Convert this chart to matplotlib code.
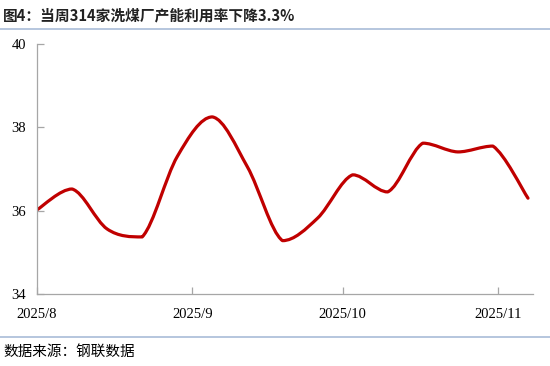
import numpy as np
import pandas as pd
import matplotlib
matplotlib.use("Agg")
import matplotlib.pyplot as plt
import matplotlib.dates as mdates
from matplotlib.path import Path
from matplotlib.patches import PathPatch
from matplotlib.lines import Line2D

plt.rcParams['font.family'] = ['Noto Sans CJK SC', 'DejaVu Sans']

# ---- data ----
dates = pd.date_range("2025-08-01", periods=15, freq="7D")
values = [36.02, 36.52, 35.56, 35.37, 37.30, 38.25, 37.05, 35.28, 35.82,
          36.86, 36.45, 37.62, 37.41, 37.55, 36.30]
xtick_dates = ["2025-08-01", "2025-09-01", "2025-10-01", "2025-11-01"]
xtick_labels = ["2025/8", "2025/9", "2025/10", "2025/11"]
yticks = [34, 36, 38, 40]
title = "图4：当周314家洗煤厂产能利用率下降3.3%"
source = "数据来源：钢联数据"

fig = plt.figure(figsize=(5.5, 3.66), dpi=100)
ax = fig.add_axes([37/550, 1-294/366, (533-37)/550, (294-44)/366])

x = mdates.date2num(dates.to_pydatetime())
y = np.array(values, dtype=float)

# smooth bezier through points; control points kept within each segment's y range,
# except at extrema where a little rounding is allowed
verts = [(x[0], y[0])]
codes = [Path.MOVETO]
n = len(x)
t = 1/6
for i in range(n-1):
    p0 = (x[max(i-1, 0)], y[max(i-1, 0)])
    p1 = (x[i], y[i])
    p2 = (x[i+1], y[i+1])
    p3 = (x[min(i+2, n-1)], y[min(i+2, n-1)])
    lo, hi = min(p1[1], p2[1]), max(p1[1], p2[1])
    c1y = np.clip(p1[1] + (p2[1]-p0[1])*t, lo, hi)
    c2y = np.clip(p2[1] - (p3[1]-p1[1])*t, lo, hi)
    c1 = (p1[0] + (p2[0]-p0[0])*t, c1y)
    c2 = (p2[0] - (p3[0]-p1[0])*t, c2y)
    verts += [c1, c2, p2]
    codes += [Path.CURVE4]*3
patch = PathPatch(Path(verts, codes), facecolor='none', edgecolor='#C00000',
                  lw=2.3, capstyle='round', joinstyle='round')
ax.add_patch(patch)

ax.set_xlim(mdates.date2num(pd.Timestamp("2025-08-01")),
            mdates.date2num(pd.Timestamp("2025-11-08")))
ax.set_ylim(34, 40)
ax.set_yticks(yticks)
ax.set_xticks(mdates.date2num(pd.to_datetime(xtick_dates).to_pydatetime()))
ax.set_xticklabels(xtick_labels)

for s in ['top', 'right']:
    ax.spines[s].set_visible(False)
for s in ['left', 'bottom']:
    ax.spines[s].set_color('#A6A6A6')
    ax.spines[s].set_linewidth(0.9)
ax.tick_params(axis='both', direction='in', length=5, width=0.9, color='#A6A6A6',
               labelsize=10.5, labelcolor='black')
ax.tick_params(axis='y', pad=8)
ax.tick_params(axis='x', pad=10)
for lab in ax.get_xticklabels() + ax.get_yticklabels():
    lab.set_fontfamily(['Liberation Serif'])

fig.text(3/550, 1-15/366, title, fontsize=10.6, fontweight='bold',
         ha='left', va='center', color='#222222')
fig.text(3/550, 1-352/366, source, fontsize=10.5, ha='left', va='center', color='black')

fig.add_artist(Line2D([0, 1], [1-28.5/366, 1-28.5/366], color='#A9BCD8', lw=1.2))
fig.add_artist(Line2D([0, 1], [1-337/366, 1-337/366], color='#A9BCD8', lw=1.2))

fig.savefig("out.png", dpi=100)
